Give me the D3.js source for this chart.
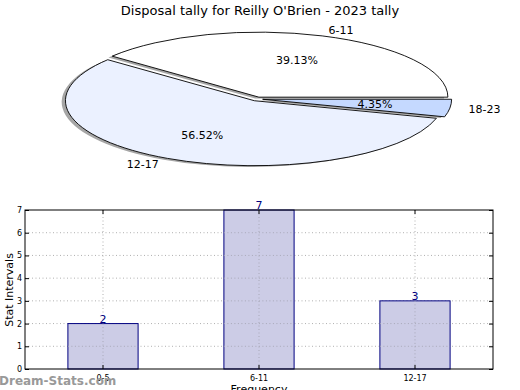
<!DOCTYPE html>
<html><head><meta charset="utf-8">
<script src="https://cdn.jsdelivr.net/npm/d3@7"></script>
<style>body{margin:0;background:#fff}svg{font-family:"DejaVu Sans",sans-serif}</style>
</head><body>
<svg id="c" width="520" height="390"></svg>
<script>
const title = "Disposal tally for Reilly O'Brien - 2023 tally";
const pieLabels = ["6-11", "12-17", "18-23"];
const pieValues = [9, 13, 1];
const pieColors = ["#ffffff", "#ebf1ff", "#c5d9ff"];
const barCategories = ["0-5", "6-11", "12-17"];
const barValues = [2, 7, 3];
const yTicks = [0, 1, 2, 3, 4, 5, 6, 7];

const svg = d3.select("#c");
svg.append("rect").attr("width",520).attr("height",390).attr("fill","#fff");
svg.append("text").attr("x",260).attr("y",15).attr("text-anchor","middle")
  .attr("font-size",13).text(title);

// ---- Pie ----
const cx = 257, cy = 99, rx = 189, ry = 65, explode = 0.03;
const pie = d3.pie().sort(null).startAngle(Math.PI/2).endAngle(Math.PI/2 - 2*Math.PI);
const arcs = pie(pieValues);
const arc = d3.arc().innerRadius(0).outerRadius(1);
const total = d3.sum(pieValues);
function midTheta(a){ return Math.PI/2 - (a.startAngle + a.endAngle)/2; }
function offs(a, r){ const t = midTheta(a); return [Math.cos(t)*r*rx, -Math.sin(t)*r*ry]; }

const gp = svg.append("g");
// shadows
arcs.forEach((a,i)=>{
  const [ox,oy] = offs(a, explode);
  gp.append("path").attr("d", arc(a))
    .attr("transform",`translate(${cx+ox-0.02*rx},${cy+oy+0.02*ry}) scale(${rx},${ry})`)
    .attr("fill","#4d4d4d").attr("fill-opacity",0.5).attr("stroke","none");
});
arcs.forEach((a,i)=>{
  const [ox,oy] = offs(a, explode);
  gp.append("path").attr("d", arc(a))
    .attr("transform",`translate(${cx+ox},${cy+oy}) scale(${rx},${ry})`)
    .attr("fill",pieColors[i]).attr("stroke","#000").attr("stroke-width",0.9)
    .attr("vector-effect","non-scaling-stroke").attr("stroke-linejoin","round");
});
arcs.forEach((a,i)=>{
  const [ox,oy] = offs(a, explode);
  const t = midTheta(a);
  const lx = cx + ox + Math.cos(t)*1.1*rx, ly = cy + oy - Math.sin(t)*1.1*ry;
  gp.append("text").attr("x",lx).attr("y",ly).attr("dy","0.35em")
    .attr("text-anchor", Math.cos(t) > 0 ? "start" : "end")
    .attr("font-size",11).text(pieLabels[i]);
  const px = cx + ox + Math.cos(t)*0.6*rx, py = cy + oy - Math.sin(t)*0.6*ry;
  gp.append("text").attr("x",px).attr("y",py).attr("dy","0.35em")
    .attr("text-anchor","middle").attr("font-size",11)
    .text((pieValues[i]/total*100).toFixed(2) + "%");
});

// ---- Bars ----
const L = 25, R = 493, T = 210, B = 369;
const x = d3.scaleBand().domain(barCategories).range([L,R]).paddingInner(0).paddingOuter(0);
const y = d3.scaleLinear().domain([0,7]).range([B,T]);
const bw = x.bandwidth()*0.45;
const gb = svg.append("g");
// grid
gb.selectAll(".gy").data(yTicks.filter(d=>d>0 && d<7)).join("line")
  .attr("x1",L).attr("x2",R).attr("y1",d=>y(d)).attr("y2",d=>y(d))
  .attr("stroke","#b0b0b0").attr("stroke-dasharray","1,2.5").attr("stroke-width",1);
gb.selectAll(".gx").data(barCategories).join("line")
  .attr("x1",d=>x(d)+x.bandwidth()/2).attr("x2",d=>x(d)+x.bandwidth()/2)
  .attr("y1",T).attr("y2",B)
  .attr("stroke","#b0b0b0").attr("stroke-dasharray","1,2.5").attr("stroke-width",1);
// bars
gb.selectAll(".bar").data(barValues).join("rect")
  .attr("x",(d,i)=>x(barCategories[i])+x.bandwidth()/2-bw/2)
  .attr("width",bw).attr("y",d=>y(d)).attr("height",d=>B-y(d))
  .attr("fill","#ccccE6").attr("stroke","#000080").attr("stroke-width",1);
// redraw x grid over bars (dotted visible on bars)
gb.selectAll(".gx2").data(barCategories).join("line")
  .attr("x1",d=>x(d)+x.bandwidth()/2).attr("x2",d=>x(d)+x.bandwidth()/2)
  .attr("y1",d=>y(barValues[barCategories.indexOf(d)])).attr("y2",B)
  .attr("stroke","#a8a8b8").attr("stroke-dasharray","1,2.5").attr("stroke-width",1);
gb.selectAll(".gy2").data(yTicks.filter(d=>d>0 && d<7)).join("g").each(function(d){
  barValues.forEach((v,i)=>{
    if (v > d) {
      const cxp = x(barCategories[i])+x.bandwidth()/2;
      d3.select(this).append("line").attr("x1",cxp-bw/2).attr("x2",cxp+bw/2)
        .attr("y1",y(d)).attr("y2",y(d)).attr("stroke","#a8a8b8")
        .attr("stroke-dasharray","1,2.5");
    }
  });
});
// value labels
gb.selectAll(".vl").data(barValues).join("text")
  .attr("x",(d,i)=>x(barCategories[i])+x.bandwidth()/2).attr("y",d=>y(d)-1)
  .attr("text-anchor","middle").attr("font-size",11).attr("fill","#000080").text(d=>d);
// frame
gb.append("rect").attr("x",L).attr("y",T).attr("width",R-L).attr("height",B-T)
  .attr("fill","none").attr("stroke","#000").attr("stroke-width",1);
// y axis
const ya = gb.append("g").attr("transform",`translate(${L},0)`)
  .call(d3.axisLeft(y).tickValues(yTicks).tickSize(-4).tickPadding(3).tickFormat(d3.format("d")));
ya.select(".domain").remove();
ya.selectAll("text").attr("font-size",8).attr("font-family","DejaVu Sans");
const yr = gb.append("g").attr("transform",`translate(${R},0)`)
  .call(d3.axisRight(y).tickValues(yTicks).tickSize(-4).tickFormat(""));
yr.select(".domain").remove();
// x axis
const xa = gb.append("g").attr("transform",`translate(0,${B})`)
  .call(d3.axisBottom(x).tickSize(-4).tickPadding(6));
xa.select(".domain").remove();
xa.selectAll("text").attr("font-size",8).attr("font-family","DejaVu Sans");
const xt = gb.append("g").attr("transform",`translate(0,${T})`)
  .call(d3.axisTop(x).tickSize(-4).tickFormat(""));
xt.select(".domain").remove();

svg.append("text").attr("transform","translate(13,290) rotate(-90)")
  .attr("text-anchor","middle").attr("font-size",11).text("Stat Intervals");
svg.append("text").attr("x",259).attr("y",393).attr("text-anchor","middle")
  .attr("font-size",11).text("Frequency");
svg.append("text").attr("x",-1).attr("y",385).attr("font-size",12)
  .attr("fill","#999").attr("font-weight","bold").text("Dream-Stats.com");
</script>
</body></html>
